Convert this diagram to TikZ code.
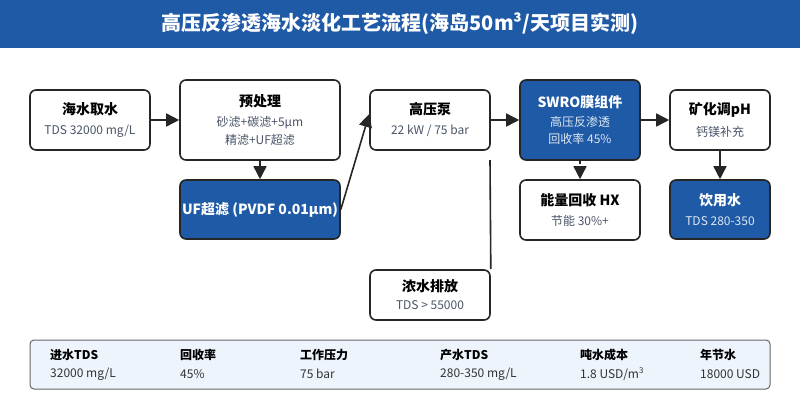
\documentclass[tikz,border=0pt]{standalone}
\usepackage{fontspec}
\setmainfont{Noto Sans CJK SC}
\usetikzlibrary{arrows.meta}
\usetikzlibrary{positioning}
\definecolor{sea-blue}{HTML}{1F5AA6}
\definecolor{sub-gray}{HTML}{4A5568}
\definecolor{panel-fill}{HTML}{EEF4FC}
\colorlet{edge}{black!85}
\colorlet{sub-light}{white!85!sea-blue}
\newcommand{\boxtitle}[1]{{\fontsize{14}{18}\selectfont\bfseries #1}}
\newcommand{\boxsub}[2][sub-gray]{{\fontsize{12}{16}\selectfont\color{#1}#2}}
\newcommand{\statcell}[4]{%
% label on top, value below
\node[anchor=west, inner sep=0pt, font=\fontsize{12}{14}\selectfont\bfseries] (#1) at (#2,355) {#3};
\node[anchor=west, inner sep=0pt, font=\fontsize{12}{14}\selectfont, text=black!80] (#1-val) at (#2,374) {#4};
}

\begin{document}
\begin{tikzpicture}[x=1pt, y=-1pt,
  stepbox/.style={draw=edge, line width=1.6pt, rounded corners=6pt, fill=white, align=center, inner sep=2pt},
  bluebox/.style={stepbox, fill=sea-blue, text=white},
  flow/.style={draw=edge, line width=1.6pt, -{Triangle[length=13pt,width=13pt]}}]
\useasboundingbox (0,0) rectangle (800,400);
% title bar
\fill[sea-blue] (0,0) rectangle (800,48);
\node[text=white, font=\fontsize{20}{24}\selectfont\bfseries] (title) at (400,24) {高压反渗透海水淡化工艺流程(海岛50m³/天项目实测)};

% process boxes
\node[stepbox, minimum width=120pt, minimum height=60pt] (intake) at (90,120)
  {\boxtitle{海水取水}\\[8pt]\boxsub{TDS 32000 mg/L}};
\node[stepbox, minimum width=160pt, minimum height=80pt] (pretreat) at (260,120)
  {\boxtitle{预处理}\\[8pt]\boxsub{砂滤+碳滤+5µm}\\[5pt]\boxsub{精滤+UF超滤}};
\node[bluebox, minimum width=160pt, minimum height=59pt] (uf) at (260,209.5)
  {\boxtitle{UF超滤 (PVDF 0.01µm)}};
\node[stepbox, minimum width=120pt, minimum height=60pt] (pump) at (430,120)
  {\boxtitle{高压泵}\\[8pt]\boxsub{22 kW / 75 bar}};
\node[bluebox, minimum width=120pt, minimum height=80pt] (swro) at (580,120)
  {\boxtitle{SWRO膜组件}\\[7pt]\boxsub[sub-light]{高压反渗透}\\[5pt]\boxsub[sub-light]{回收率 45\%}};
\node[stepbox, minimum width=120pt, minimum height=60pt] (hx) at (580,210)
  {\boxtitle{能量回收 HX}\\[8pt]\boxsub{节能 30\%+}};
\node[stepbox, minimum width=100pt, minimum height=60pt] (mineral) at (720,120)
  {\boxtitle{矿化调pH}\\[8pt]\boxsub{钙镁补充}};
\node[bluebox, minimum width=100pt, minimum height=59pt] (product) at (720,209.5)
  {\boxtitle{饮用水}\\[8pt]\boxsub[sub-light]{TDS 280-350}};
\node[stepbox, minimum width=120pt, minimum height=50pt] (brine) at (430,295)
  {\boxtitle{浓水排放}\\[6pt]\boxsub{TDS > 55000}};

% connectors
\draw[flow] (intake) -- (pretreat);
\draw[flow] (pretreat) -- (uf);
\draw[flow] (uf.east) -- ([yshift=6pt]pump.west);
\draw[flow] (pump) -- (swro);
\draw[flow, dash pattern=on 3pt off 2pt] (swro) -- (hx);
\draw[flow] (swro) -- (mineral);
\draw[flow] (mineral) -- (product);
\coordinate (brine-tap) at (490,160);
\draw[draw=edge, line width=1.6pt] (brine-tap) -- (brine.north east);

% key figures
\node[draw=black!60, line width=1pt, fill=panel-fill, rounded corners=4pt,
  minimum width=740pt, minimum height=49pt] (stats) at (400,364.5) {};
\statcell{feed}{50}{进水TDS}{32000 mg/L}
\statcell{recovery}{180}{回收率}{45\%}
\statcell{pressure}{300}{工作压力}{75 bar}
\statcell{permeate}{440}{产水TDS}{280-350 mg/L}
\statcell{cost}{580}{吨水成本}{1.8 USD/m\textsuperscript{3}}
\statcell{saving}{700}{年节水}{18000 USD}
\end{tikzpicture}
\end{document}
